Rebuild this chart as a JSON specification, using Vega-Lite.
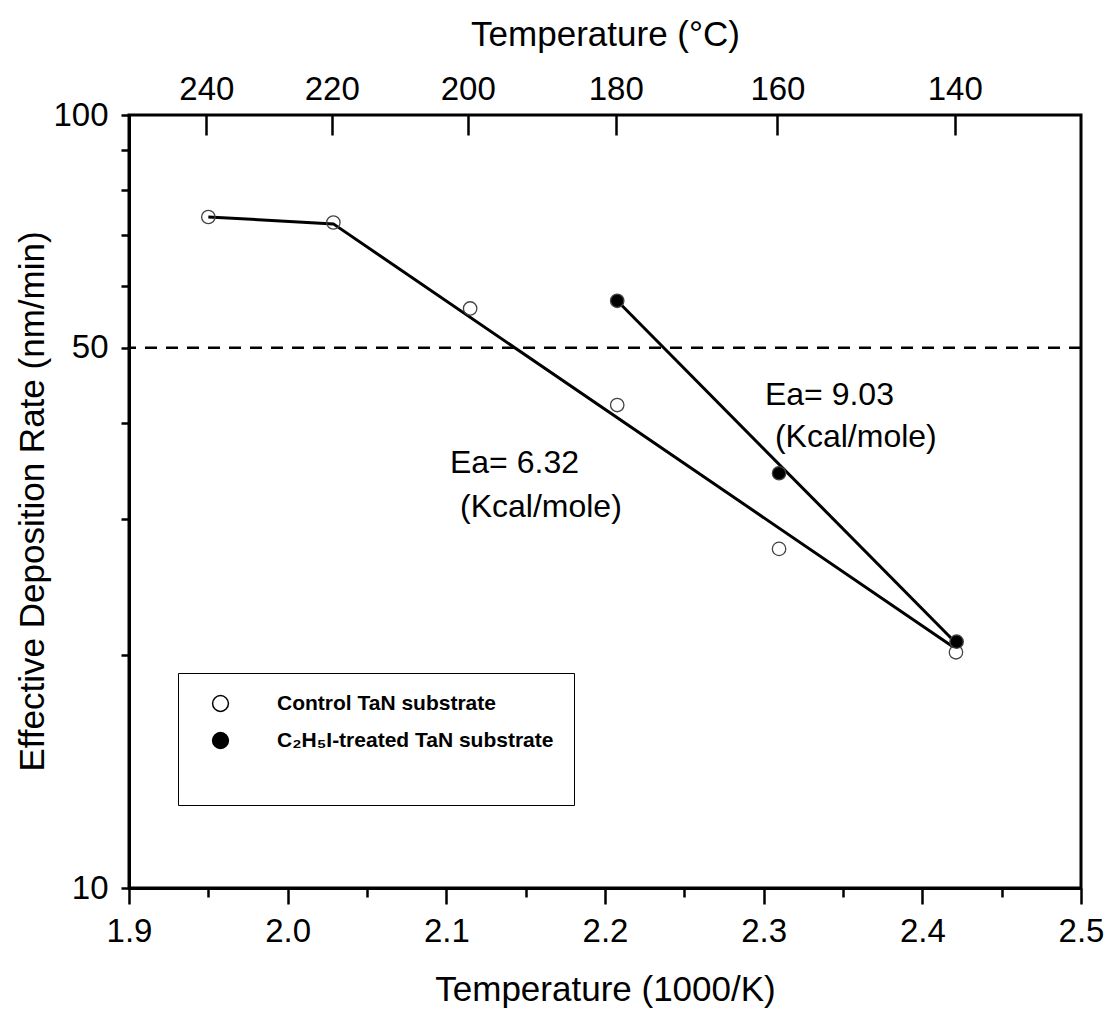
{
  "$schema": "https://vega.github.io/schema/vega-lite/v6.json",
  "width": 952,
  "height": 773,
  "autosize": "none",
  "padding": {"left": 129, "top": 115, "right": 28, "bottom": 124},
  "background": "white",
  "config": {
    "font": "Liberation Sans",
    "view": {"stroke": "black", "strokeWidth": 3},
    "axis": {
      "grid": false,
      "domainColor": "black",
      "domainWidth": 3,
      "tickColor": "black",
      "tickWidth": 2.5,
      "labelColor": "black",
      "titleColor": "black",
      "labelFontSize": 33,
      "titleFontSize": 35,
      "titleFontWeight": "normal",
      "labelFlush": false,
      "labelOverlap": false
    }
  },
  "datasets": {
    "points": [
      {"series": "Control TaN substrate", "x": 1.950, "y": 73.8},
      {"series": "Control TaN substrate", "x": 2.0288, "y": 72.6},
      {"series": "Control TaN substrate", "x": 2.115, "y": 56.2},
      {"series": "Control TaN substrate", "x": 2.2077, "y": 42.15},
      {"series": "Control TaN substrate", "x": 2.3097, "y": 27.46},
      {"series": "Control TaN substrate", "x": 2.4212, "y": 20.18},
      {"series": "C₂H₅I-treated TaN substrate", "x": 2.2077, "y": 57.5},
      {"series": "C₂H₅I-treated TaN substrate", "x": 2.3097, "y": 34.4},
      {"series": "C₂H₅I-treated TaN substrate", "x": 2.4216, "y": 20.83}
    ],
    "fits": [
      {"fit": "control", "x": 1.950, "y": 73.8},
      {"fit": "control", "x": 2.0288, "y": 72.3},
      {"fit": "control", "x": 2.4195, "y": 20.5},
      {"fit": "treated", "x": 2.2077, "y": 57.5},
      {"fit": "treated", "x": 2.4212, "y": 20.75}
    ],
    "notes": [
      {"x": 2.1023, "y": 34.4, "text": "Ea= 6.32"},
      {"x": 2.1086, "y": 30.2, "text": "(Kcal/mole)"},
      {"x": 2.3008, "y": 42.15, "text": "Ea= 9.03"},
      {"x": 2.3071, "y": 37.2, "text": "(Kcal/mole)"}
    ]
  },
  "resolve": {"axis": {"x": "independent", "y": "independent"}},
  "layer": [
    {
      "data": {"values": [{}]},
      "mark": {"type": "rule", "color": "black", "strokeWidth": 2.5, "strokeDash": [12, 9]},
      "encoding": {"y": {"datum": 50, "type": "quantitative", "axis": null}}
    },
    {
      "data": {"name": "fits"},
      "mark": {"type": "line", "color": "black", "strokeWidth": 3},
      "encoding": {
        "x": {
          "field": "x", "type": "quantitative",
          "scale": {"domain": [1.9, 2.5], "nice": false, "zero": false},
          "axis": {
            "orient": "bottom",
            "values": [1.9, 2.0, 2.1, 2.2, 2.3, 2.4, 2.5],
            "format": ".1f",
            "tickSize": 16,
            "labelPadding": 11,
            "title": "Temperature (1000/K)",
            "titleBaseline": "alphabetic",
            "titleY": 112
          }
        },
        "y": {
          "field": "y", "type": "quantitative",
          "scale": {"type": "log", "domain": [10, 100], "nice": false},
          "axis": {
            "orient": "left",
            "values": [10, 20, 30, 40, 50, 60, 70, 80, 90, 100],
            "labelExpr": "indexof([10, 50, 100], datum.value) >= 0 ? format(datum.value, 'd') : ''",
            "tickSize": 8,
            "labelPadding": 13,
            "title": "Effective Deposition Rate (nm/min)",
            "titleX": -79,
            "titleY": 386,
            "titleBaseline": "bottom"
          }
        },
        "detail": {"field": "fit"}
      }
    },
    {
      "data": {"name": "points"},
      "mark": {"type": "point", "shape": "circle", "filled": true, "opacity": 1, "size": 180, "stroke": "#444", "strokeWidth": 1.3},
      "encoding": {
        "x": {
          "field": "x", "type": "quantitative",
          "axis": {
            "orient": "bottom",
            "values": [1.95, 2.05, 2.15, 2.25, 2.35, 2.45],
            "labels": false,
            "domain": false,
            "tickSize": 9,
            "title": null
          }
        },
        "y": {"field": "y", "type": "quantitative", "axis": null},
        "fill": {
          "field": "series", "type": "nominal",
          "scale": {"domain": ["Control TaN substrate", "C₂H₅I-treated TaN substrate"], "range": ["transparent", "black"]},
          "legend": {
            "orient": "none",
            "legendX": 49,
            "legendY": 558,
            "title": " ",
            "titleOrient": "bottom",
            "titleFontSize": 24,
            "titlePadding": 10,
            "labelFontWeight": "bold",
            "labelFontSize": 21,
            "labelColor": "black",
            "labelLimit": 400,
            "symbolSize": 250,
            "symbolType": "circle",
            "symbolOffset": 12,
            "labelOffset": 46,
            "padding": 20,
            "rowPadding": 14,
            "strokeColor": "black",
            "fillColor": "white",
            "symbolStrokeColor": "black",
            "symbolStrokeWidth": 1.5
          }
        }
      }
    },
    {
      "data": {"name": "notes"},
      "mark": {"type": "text", "align": "left", "baseline": "alphabetic", "fontSize": 32, "color": "black"},
      "encoding": {
        "x": {
          "field": "x", "type": "quantitative",
          "axis": {
            "orient": "top",
            "values": [1.94875, 2.02778, 2.11349, 2.20677, 2.30867, 2.42043],
            "labelExpr": "format(1000 / datum.value - 273.15, '.0f')",
            "tickSize": -20,
            "labelPadding": 29,
            "domain": false,
            "title": "Temperature (°C)",
            "titleBaseline": "alphabetic",
            "titleY": -70
          }
        },
        "y": {"field": "y", "type": "quantitative", "axis": null},
        "text": {"field": "text"}
      }
    }
  ]
}
